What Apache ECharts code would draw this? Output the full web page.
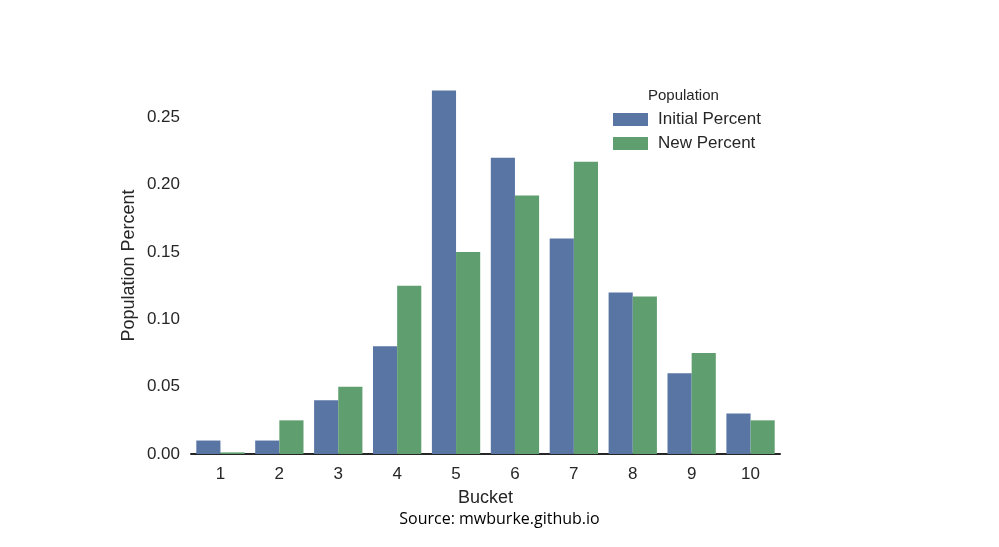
<!DOCTYPE html>
<html><head><meta charset="utf-8">
<script src="https://cdn.jsdelivr.net/npm/echarts@6/dist/echarts.min.js"></script>
<style>html,body{margin:0;padding:0;background:#fff}#c{width:999px;height:547px}</style>
</head><body><div id="c"></div>
<script>
const categories = ['1','2','3','4','5','6','7','8','9','10'];
const initialPercent = [0.01, 0.01, 0.04, 0.08, 0.27, 0.22, 0.16, 0.12, 0.06, 0.03];
const newPercent = [0.0012, 0.025, 0.05, 0.125, 0.15, 0.192, 0.217, 0.117, 0.075, 0.025];
const yTicks = [0, 0.05, 0.10, 0.15, 0.20, 0.25];

const chart = echarts.init(document.getElementById('c'));
const font = 'Liberation Sans, Arial, sans-serif';
chart.setOption({
  animation: false,
  backgroundColor: '#fff',
  grid: {left: 191, right: 219, top: 77, bottom: 93, containLabel: false},
  legend: {
    orient: 'vertical', left: 608, top: 106, icon: 'rect',
    itemWidth: 35, itemHeight: 13, itemGap: 7,
    textStyle: {fontFamily: font, fontSize: 17, color: '#262626', padding: [0,0,0,5]},
    data: ['Initial Percent', 'New Percent']
  },
  graphic: [
    {type: 'text', left: 648, top: 88, style: {text: 'Population', font: '15px ' + font, fill: '#262626'}},
    {type: 'text', left: 'center', top: 511, style: {text: 'Source: mwburke.github.io', font: '16px "Open Sans", "Noto Sans", sans-serif', fill: '#000'}}
  ],
  xAxis: {
    type: 'category', data: categories,
    name: 'Bucket', nameLocation: 'middle', nameGap: 35,
    nameTextStyle: {fontFamily: font, fontSize: 18, color: '#262626'},
    axisLine: {lineStyle: {color: '#262626', width: 2}},
    axisTick: {show: false},
    axisLabel: {fontFamily: font, fontSize: 17, color: '#262626', margin: 12},
    splitLine: {show: false}
  },
  yAxis: {
    type: 'value', min: 0, max: 0.28, interval: 0.05,
    name: 'Population Percent', nameLocation: 'middle', nameGap: 53, nameMoveOverlap: false,
    nameTextStyle: {fontFamily: font, fontSize: 18, color: '#262626'},
    axisLine: {show: false}, axisTick: {show: false},
    splitLine: {show: false},
    axisLabel: {fontFamily: font, fontSize: 17, color: '#262626', margin: 11,
      formatter: v => yTicks.some(t => Math.abs(t - v) < 1e-9) ? v.toFixed(2) : ''}
  },
  series: [
    {name: 'Initial Percent', type: 'bar', data: initialPercent, barGap: '0%', barCategoryGap: '18%',
     itemStyle: {color: '#5975a4'}},
    {name: 'New Percent', type: 'bar', data: newPercent, barGap: '0%', barCategoryGap: '18%',
     itemStyle: {color: '#5f9e6e'}}
  ]
});
</script></body></html>
